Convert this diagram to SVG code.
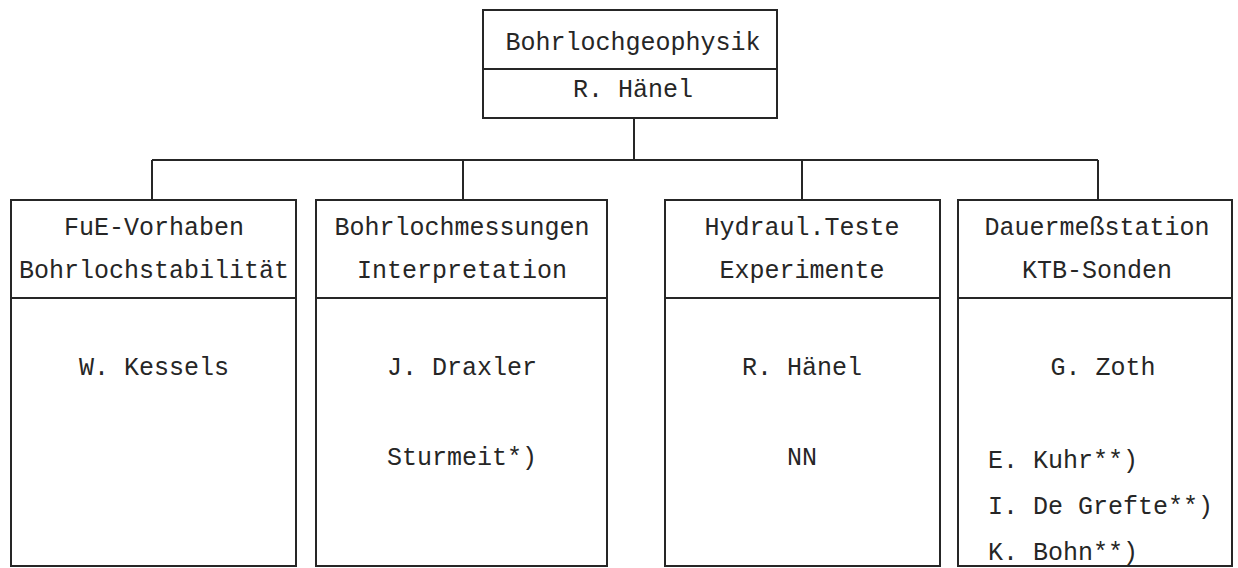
<svg xmlns="http://www.w3.org/2000/svg" width="1238" height="568" viewBox="0 0 1238 568">
  <style>
    .box { fill: #ffffff; stroke: #262626; stroke-width: 2; }
    .rule { stroke: #262626; stroke-width: 2; fill: none; }
    .wire { stroke: #262626; stroke-width: 2; fill: none; }
    .t { font-family: "Liberation Mono", "DejaVu Sans Mono", monospace; font-size: 25px; fill: #262626; }
    .c { text-anchor: middle; }
  </style>
  <rect width="1238" height="568" fill="#ffffff"/>

  <!-- connectors -->
  <g id="connectors">
    <line class="wire" x1="634" y1="118" x2="634" y2="160"/>
    <line class="wire" x1="152" y1="160" x2="1098" y2="160"/>
    <line class="wire" x1="152" y1="160" x2="152" y2="200"/>
    <line class="wire" x1="463" y1="160" x2="463" y2="200"/>
    <line class="wire" x1="802" y1="160" x2="802" y2="200"/>
    <line class="wire" x1="1098" y1="160" x2="1098" y2="200"/>
  </g>

  <!-- head -->
  <g id="head">
    <rect class="box" x="483" y="10" width="294" height="108"/>
    <line class="rule" x1="483" y1="69" x2="777" y2="69"/>
    <text class="t c" x="633" y="50">Bohrlochgeophysik</text>
    <text class="t c" x="633" y="97">R. Hänel</text>
  </g>

  <!-- FuE-Vorhaben -->
  <g id="fue">
    <rect class="box" x="11" y="200" width="285" height="366"/>
    <line class="rule" x1="11" y1="298" x2="296" y2="298"/>
    <text class="t c" x="154" y="235">FuE-Vorhaben</text>
    <text class="t c" x="154" y="278">Bohrlochstabilität</text>
    <text class="t c" x="154" y="375">W. Kessels</text>
  </g>

  <!-- Bohrlochmessungen -->
  <g id="messungen">
    <rect class="box" x="316" y="200" width="291" height="366"/>
    <line class="rule" x1="316" y1="298" x2="607" y2="298"/>
    <text class="t c" x="462" y="235">Bohrlochmessungen</text>
    <text class="t c" x="462" y="278">Interpretation</text>
    <text class="t c" x="462" y="375">J. Draxler</text>
    <text class="t c" x="462" y="465">Sturmeit*)</text>
  </g>

  <!-- Hydraul. Teste -->
  <g id="hydraul">
    <rect class="box" x="665" y="200" width="275" height="366"/>
    <line class="rule" x1="665" y1="298" x2="940" y2="298"/>
    <text class="t c" x="802" y="235">Hydraul.Teste</text>
    <text class="t c" x="802" y="278">Experimente</text>
    <text class="t c" x="802" y="375">R. Hänel</text>
    <text class="t c" x="802" y="465">NN</text>
  </g>

  <!-- Dauermessstation -->
  <g id="dauer">
    <rect class="box" x="958" y="200" width="274" height="366"/>
    <line class="rule" x1="958" y1="298" x2="1232" y2="298"/>
    <text class="t c" x="1097" y="235">Dauermeßstation</text>
    <text class="t c" x="1097" y="278">KTB-Sonden</text>
    <text class="t c" x="1103" y="375">G. Zoth</text>
    <text class="t" x="988" y="468">E. Kuhr**)</text>
    <text class="t" x="988" y="514">I. De Grefte**)</text>
    <text class="t" x="988" y="560">K. Bohn**)</text>
  </g>
</svg>
